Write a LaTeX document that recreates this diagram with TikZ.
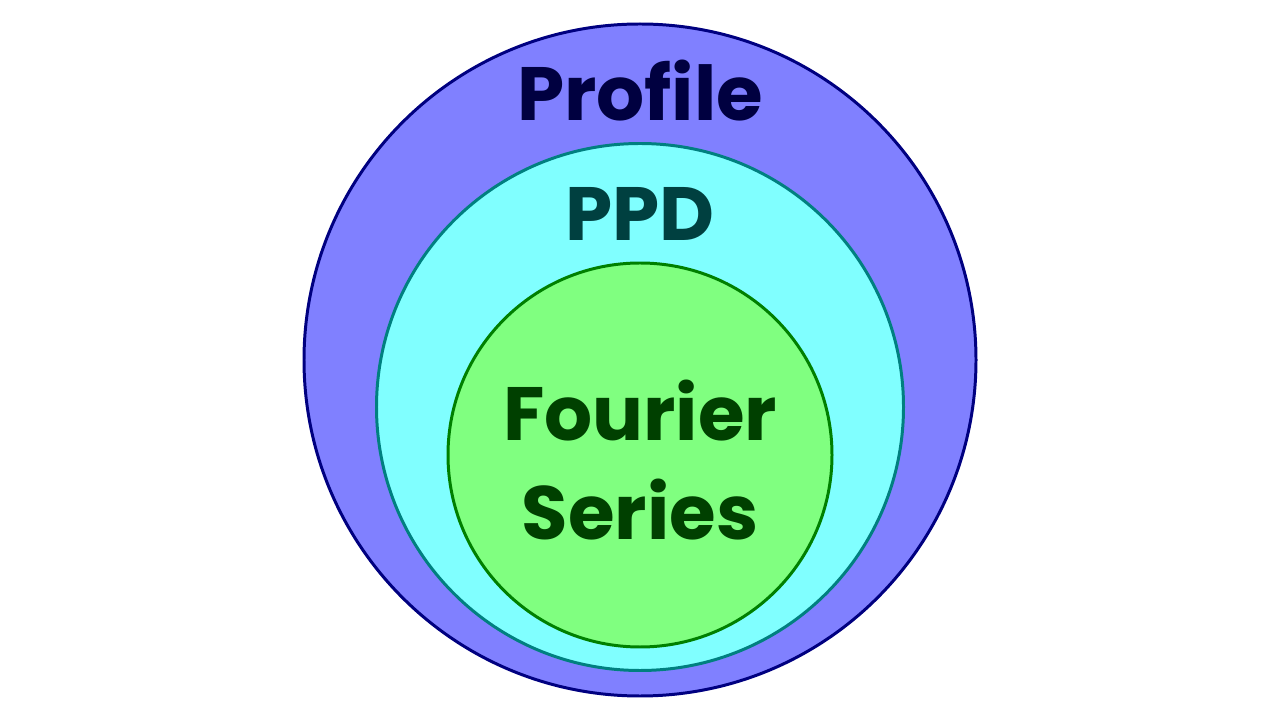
\documentclass[tikz,border=0pt]{standalone}
\usepackage{fontspec}
\setmainfont{Poppins}
\definecolor{profilefill}{HTML}{8080FF}
\definecolor{profileline}{HTML}{000080}
\definecolor{profiletext}{HTML}{000040}
\definecolor{ppdfill}{HTML}{80FFFF}
\definecolor{ppdline}{HTML}{008080}
\definecolor{ppdtext}{HTML}{004040}
\definecolor{fourierfill}{HTML}{80FF80}
\definecolor{fourierline}{HTML}{008000}
\definecolor{fouriertext}{HTML}{004000}
\tikzset{
  ring/.style={circle, line width=1.7pt, inner sep=0pt},
  tag/.style={anchor=base, font=\fontsize{43}{52}\selectfont\bfseries, inner sep=0pt}
}
\begin{document}
\begin{tikzpicture}
\useasboundingbox (0,0) rectangle (25.6,14.4);
\node[ring, draw=profileline, fill=profilefill, minimum size=13.44cm] (profile) at (12.8,7.2) {};
\node[ring, draw=ppdline, fill=ppdfill, minimum size=10.54cm] (ppd) at (12.8,6.26) {};
\node[ring, draw=fourierline, fill=fourierfill, minimum size=7.68cm] (fourier) at (12.8,5.3) {};
\node[tag, text=profiletext] (profilelabel) at (12.8,11.98) {Profile};
\node[tag, text=ppdtext] (ppdlabel) at (12.8,9.58) {PPD};
\node[tag, text=fouriertext] (fourierlabel) at (12.8,5.58) {Fourier};
\node[tag, text=fouriertext] (serieslabel) at (12.8,3.6) {Series};
\end{tikzpicture}
\end{document}
